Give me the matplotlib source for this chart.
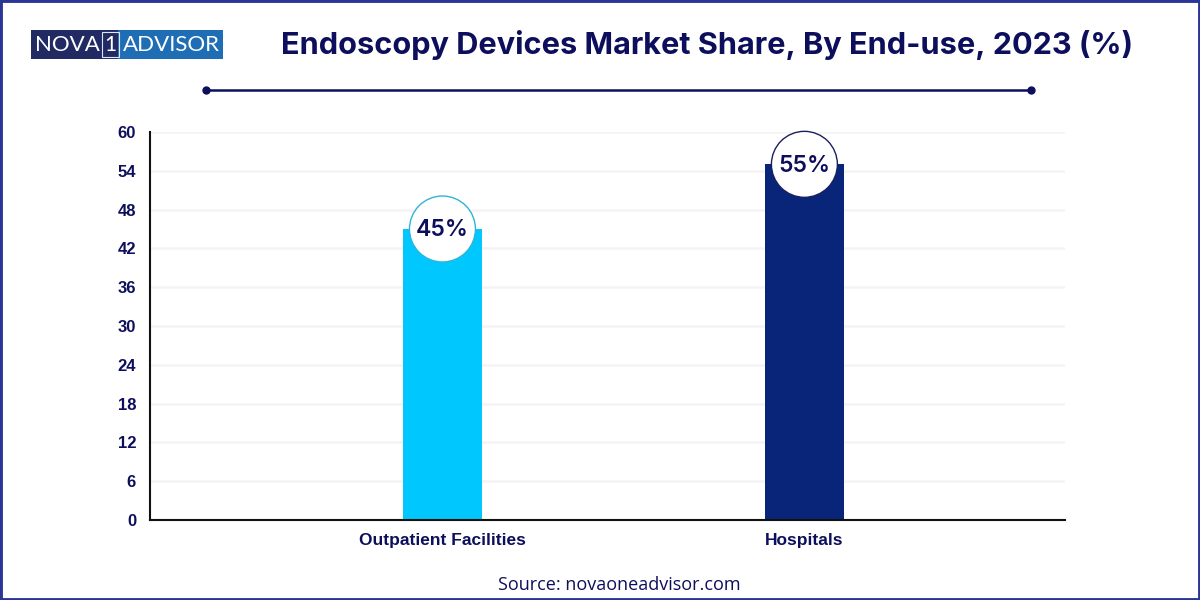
import numpy as np
import matplotlib.pyplot as plt
from matplotlib.patches import Rectangle
from matplotlib.lines import Line2D

categories = ['Outpatient Facilities', 'Hospitals']
shares = [45, 55]
bar_colors = ['#00C8FF', '#082579']
ring_colors = ['#2FB4D8', '#1B1F5E']
yticks = [0, 6, 12, 18, 24, 30, 36, 42, 48, 54, 60]

NAVY = '#0E0F5C'
W, H = 1200, 600

plt.rcParams['font.family'] = ['Liberation Sans', 'DejaVu Sans']

fig = plt.figure(figsize=(12, 6), dpi=100)
ax = fig.add_axes([150 / W, 1 - 520 / H, (1065 - 150) / W, (520 - 132) / H])

x = np.arange(len(categories))
ax.bar(x, shares, width=0.218, color=bar_colors, zorder=2)
ax.scatter(x, shares, s=2256, facecolor='white', edgecolor=ring_colors, linewidth=1, zorder=3, clip_on=False)
for i in range(0, len(shares)):
    ax.annotate(str(shares[i]) + '%', (x[i], shares[i]), xytext=(0, -1), textcoords='offset points',
                ha='center', va='center', fontsize=16.5, fontweight='semibold', family='Inter',
                color=NAVY, zorder=4)

ax.set_xlim(-0.808, 1.72)
ax.set_ylim(0, 60)
ax.set_yticks(yticks)
ax.set_xticks(x)
ax.set_xticklabels(categories)
ax.tick_params(axis='both', length=0, labelcolor=NAVY)
ax.tick_params(axis='x', pad=9, labelsize=12.5)
ax.tick_params(axis='y', pad=10, labelsize=12)
for label in ax.get_xticklabels() + ax.get_yticklabels():
    label.set_fontweight('bold')
ax.grid(axis='y', color='#F4F4F4', linewidth=1.8, zorder=0)
ax.set_axisbelow(True)
ax.spines['top'].set_visible(False)
ax.spines['right'].set_visible(False)
ax.spines['left'].set_linewidth(1.5)
ax.spines['bottom'].set_linewidth(1.5)
ax.spines['left'].set_color('#111111')
ax.spines['bottom'].set_color('#111111')

fig.text(707 / W, 1 - 45 / H, 'Endoscopy Devices Market Share, By End-use, 2023 (%)', ha='center', va='center',
         fontsize=22.1, fontweight='bold', family='Inter', color=NAVY)
fig.text(619 / W, 1 - 585 / H, 'Source: novaoneadvisor.com', ha='center', va='center',
         fontsize=13, family='Open Sans', color=NAVY)

# title rule with end dots
fig.add_artist(Line2D([206 / W, 1031 / W], [1 - 90 / H, 1 - 90 / H], color=NAVY, linewidth=1.8,
                      marker='o', markersize=5, markevery=[0, 1]))

# logo
fig.add_artist(Rectangle((31 / W, 1 - 59 / H), 87 / W, 29 / H, transform=fig.transFigure, color='#212A63', linewidth=0))
fig.add_artist(Rectangle((118 / W, 1 - 59 / H), 105 / W, 29 / H, transform=fig.transFigure, color='#1F6DB5', linewidth=0))
fig.add_artist(Rectangle((102 / W, 1 - 57 / H), 17 / W, 25 / H, transform=fig.transFigure, facecolor='none',
                         edgecolor='#DDE6F5', linewidth=0.8))
fig.text(35 / W, 1 - 45 / H, 'NOVA', ha='left', va='center', fontsize=16, family='Lato', color='white')
fig.text(110.5 / W, 1 - 45 / H, '1', ha='center', va='center', fontsize=15, family='Lato', color='white')
fig.text(123 / W, 1 - 45 / H, 'ADVISOR', ha='left', va='center', fontsize=16, family='Lato', color='white')

# outer frame
fig.add_artist(Rectangle((0, 0), 1, 1, transform=fig.transFigure, facecolor='none', edgecolor='#2B3596', linewidth=3.5))

plt.savefig('out.png', dpi=100)
